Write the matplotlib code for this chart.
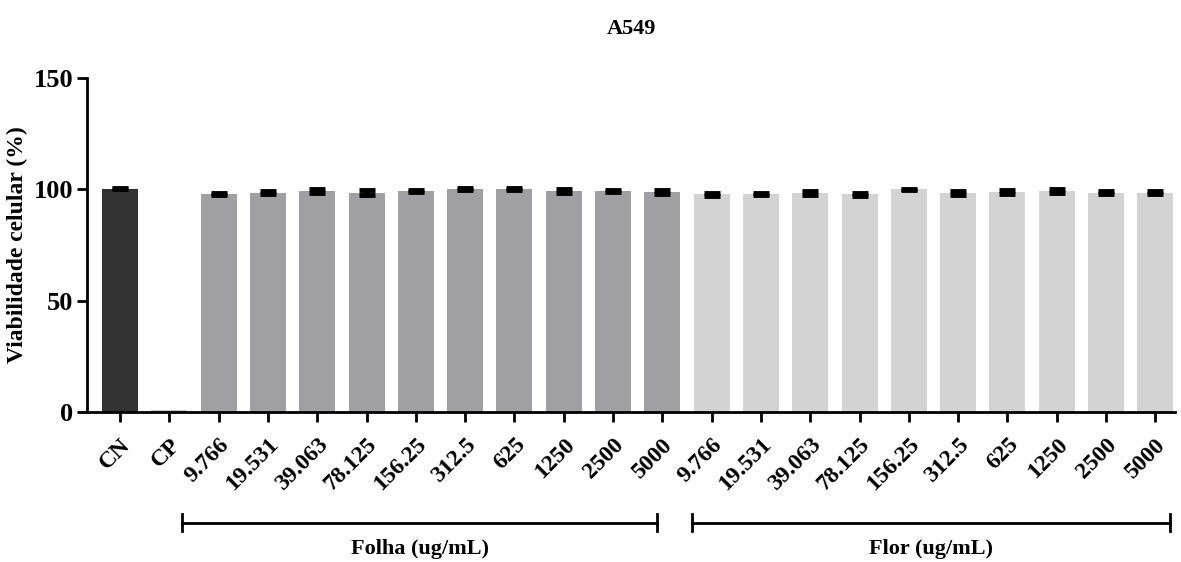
import matplotlib
matplotlib.use('Agg')
import matplotlib.pyplot as plt
import matplotlib.transforms as mtransforms
import numpy as np

# Dados
rotulos = ['CN', 'CP',
           '9.766', '19.531', '39.063', '78.125', '156.25', '312.5', '625', '1250', '2500', '5000',
           '9.766', '19.531', '39.063', '78.125', '156.25', '312.5', '625', '1250', '2500', '5000']
controles = [100.4, 0.9]
controles_err = [0.3, 0.0]
folha = [98.0, 98.6, 99.2, 98.6, 99.3, 100.1, 100.2, 99.3, 99.3, 98.8]
folha_err = [0.6, 0.8, 0.8, 1.0, 0.6, 0.4, 0.6, 0.7, 0.3, 1.0]
flor = [97.9, 97.9, 98.5, 97.9, 100.0, 98.5, 98.9, 99.5, 98.6, 98.5]
flor_err = [0.7, 0.6, 0.8, 0.7, 0.3, 0.9, 0.8, 0.9, 0.8, 0.6]

cores = ['#323232', '#c8c8c8'] + ['#a0a0a4'] * len(folha) + ['#d3d3d3'] * len(flor)

plt.rcParams['font.family'] = 'Liberation Serif'
plt.rcParams['font.weight'] = 'bold'

valores = controles + folha + flor
erros = controles_err + folha_err + flor_err
x = np.arange(len(valores))

fig = plt.figure(figsize=(11.81, 5.62), dpi=100)
ax = fig.add_axes([0.0737, 0.267, 0.9213, 0.594])

ax.bar(x, valores, width=0.73, color=cores, edgecolor='none', zorder=2)
# CP quase zero: sem barra de erro visivel
mask = np.array(erros) > 0
ax.errorbar(x[mask], np.array(valores)[mask], yerr=np.array(erros)[mask], fmt='none',
            ecolor='black', elinewidth=3, capsize=6, capthick=3.5, zorder=3)

ax.set_xlim(-0.67, 21.4)
ax.set_ylim(0, 150)
ax.set_yticks([0, 50, 100, 150])
ax.set_xticks(x)
ax.set_xticklabels(rotulos, rotation=45, ha='right', va='top', rotation_mode='anchor',
                   fontsize=17, fontweight='bold')
for lab in ax.get_yticklabels():
    lab.set_fontsize(19)
    lab.set_fontweight('bold')

for s in ['top', 'right']:
    ax.spines[s].set_visible(False)
for s in ['left', 'bottom']:
    ax.spines[s].set_linewidth(2)
ax.tick_params(axis='both', width=2, length=7, direction='out')
ax.tick_params(axis='x', pad=9)
ax.tick_params(axis='y', pad=3)

ax.set_ylabel('Viabilidade celular (%)', fontsize=17, fontweight='bold', labelpad=4)
ax.set_title('A549', fontsize=16, fontweight='bold', pad=32)

# Colchetes dos grupos
trans = mtransforms.blended_transform_factory(ax.transData, ax.transAxes)
grupos = [('Folha (ug/mL)', 1.25, 10.9), ('Flor (ug/mL)', 11.6, 21.3)]
yb = -0.332
for nome, ini, fim in grupos:
    ax.plot([ini, fim], [yb, yb], color='black', lw=2, transform=trans, clip_on=False)
    for xe in (ini, fim):
        ax.plot([xe, xe], [yb - 0.025, yb + 0.025], color='black', lw=2,
                transform=trans, clip_on=False)
    ax.text((ini + fim) / 2, yb - 0.05, nome, transform=trans, ha='center', va='top',
            fontsize=16, fontweight='bold')

fig.savefig('out.png', dpi=100)
